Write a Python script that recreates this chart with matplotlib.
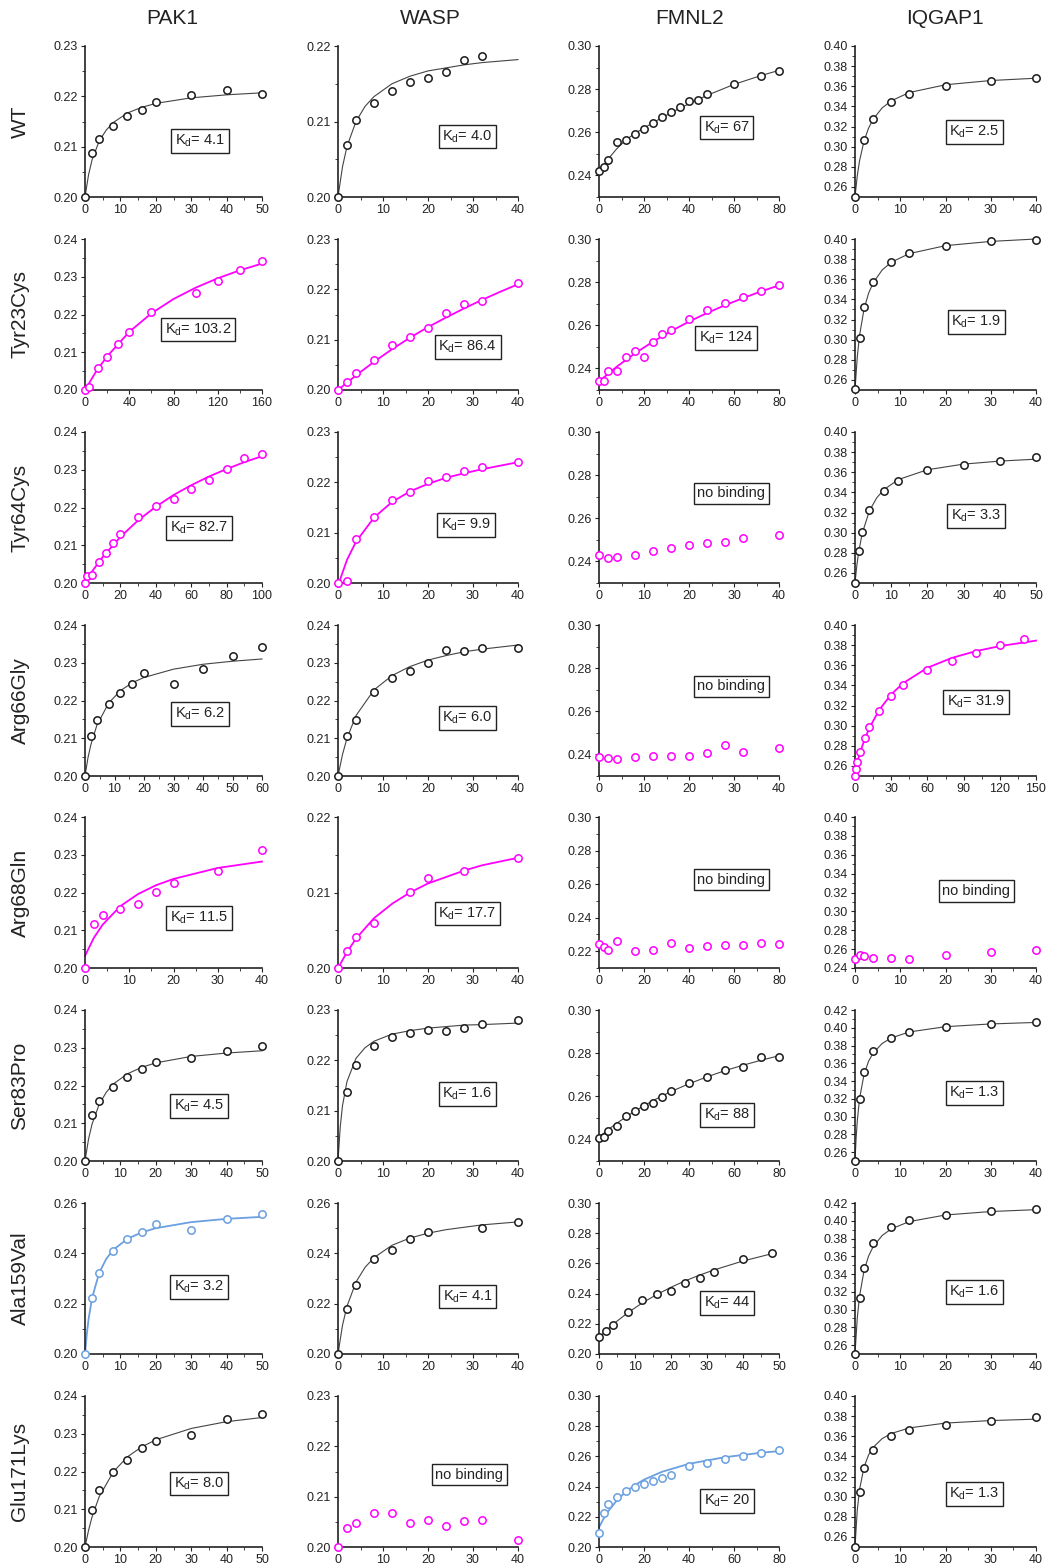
import numpy as np
import matplotlib
matplotlib.use("Agg")
import matplotlib.pyplot as plt

plt.rcParams['font.family'] = ['Liberation Sans', 'DejaVu Sans']
plt.rcParams['mathtext.default'] = 'regular'

proteins = ["PAK1", "WASP", "FMNL2", "IQGAP1"]
mutants = ["WT", "Tyr23Cys", "Tyr64Cys", "Arg66Gly", "Arg68Gln",
           "Ser83Pro", "Ala159Val", "Glu171Lys"]

# ---- WT ----
wt_pak1_x = [0, 2, 4, 8, 12, 16, 20, 30, 40, 50]
wt_pak1_y = [0.200, 0.2088, 0.2115, 0.2142, 0.2160, 0.2172, 0.2189, 0.2202, 0.2212, 0.2205]
wt_pak1_fx = [0, 1, 2, 4, 6, 8, 12, 16, 20, 30, 40, 50]
wt_pak1_fy = [0.200, 0.2044, 0.2074, 0.2111, 0.2133, 0.2148, 0.2167, 0.2178, 0.2186, 0.2197, 0.2203, 0.2207]
wt_wasp_x = [0, 2, 4, 8, 12, 16, 20, 24, 28, 32]
wt_wasp_y = [0.200, 0.2069, 0.2102, 0.2125, 0.2141, 0.2152, 0.2157, 0.2165, 0.2182, 0.2187]
wt_wasp_fx = [0, 1, 2, 4, 6, 8, 12, 16, 20, 24, 28, 32, 40]
wt_wasp_fy = [0.200, 0.2040, 0.2067, 0.2100, 0.2120, 0.2133, 0.2150, 0.2160, 0.2167, 0.2171, 0.2175, 0.2178, 0.2182]
wt_fmnl2_x = [0, 2, 4, 8, 12, 16, 20, 24, 28, 32, 36, 40, 44, 48, 60, 72, 80]
wt_fmnl2_y = [0.2420, 0.2437, 0.2470, 0.2553, 0.2563, 0.2590, 0.2614, 0.2641, 0.2670, 0.2695,
              0.2718, 0.2743, 0.2750, 0.2776, 0.2822, 0.2861, 0.2884]
wt_fmnl2_fx = [0, 4, 8, 12, 16, 20, 28, 36, 44, 48, 60, 72, 80]
wt_fmnl2_fy = [0.2415, 0.2475, 0.2525, 0.2565, 0.2595, 0.2620, 0.2668, 0.2712, 0.2752, 0.2771, 0.2822, 0.2863, 0.2887]
wt_iqgap1_x = [0, 2, 4, 8, 12, 20, 30, 40]
wt_iqgap1_y = [0.250, 0.3065, 0.3275, 0.3443, 0.3525, 0.3602, 0.3648, 0.3678]
wt_iqgap1_fx = [0, 0.5, 1, 2, 3, 4, 6, 8, 12, 20, 30, 40]
wt_iqgap1_fy = [0.250, 0.271, 0.2858, 0.3057, 0.3184, 0.3272, 0.3385, 0.3455, 0.3538, 0.3615, 0.3657, 0.368]

# ---- Tyr23Cys ----
y23_pak1_x = [0, 4, 12, 20, 30, 40, 60, 100, 120, 140, 160]
y23_pak1_y = [0.2000, 0.2007, 0.2059, 0.2088, 0.2123, 0.2153, 0.2207, 0.2256, 0.2288, 0.2318, 0.2343]
y23_pak1_fx = [0, 10, 20, 40, 60, 80, 100, 120, 140, 160]
y23_pak1_fy = [0.200, 0.2049, 0.2089, 0.2154, 0.2203, 0.2241, 0.2271, 0.2296, 0.2317, 0.2335]
y23_wasp_x = [0, 2, 4, 8, 12, 16, 20, 24, 28, 32, 40]
y23_wasp_y = [0.2000, 0.2016, 0.2034, 0.2060, 0.2089, 0.2106, 0.2123, 0.2153, 0.2171, 0.2176, 0.2212]
y23_wasp_fx = [0, 4, 8, 12, 16, 20, 24, 28, 32, 36, 40]
y23_wasp_fy = [0.200, 0.2029, 0.2056, 0.2081, 0.2104, 0.2125, 0.2144, 0.2162, 0.2179, 0.2195, 0.2210]
y23_fmnl2_x = [0, 2, 4, 8, 12, 16, 20, 24, 28, 32, 40, 48, 56, 64, 72, 80]
y23_fmnl2_y = [0.2343, 0.2343, 0.2390, 0.2390, 0.2453, 0.2479, 0.2451, 0.2521, 0.2561, 0.2579,
               0.2630, 0.2673, 0.2705, 0.2732, 0.2760, 0.2787]
y23_fmnl2_fx = [0, 8, 16, 24, 32, 40, 48, 56, 64, 72, 80]
y23_fmnl2_fy = [0.2340, 0.2409, 0.2470, 0.2524, 0.2573, 0.2617, 0.2657, 0.2693, 0.2726, 0.2757, 0.2785]
y23_iqgap1_x = [0, 1, 2, 4, 8, 12, 20, 30, 40]
y23_iqgap1_y = [0.2505, 0.3015, 0.3320, 0.3575, 0.3775, 0.3862, 0.3930, 0.3978, 0.3995]
y23_iqgap1_fx = [0, 0.5, 1, 2, 3, 4, 6, 8, 12, 20, 30, 40]
y23_iqgap1_fy = [0.250, 0.2827, 0.3041, 0.3305, 0.3461, 0.3564, 0.3692, 0.3769, 0.3855, 0.3934, 0.3976, 0.400]

# ---- Tyr64Cys ----
y64_pak1_x = [0, 1, 4, 8, 12, 16, 20, 30, 40, 50, 60, 70, 80, 90, 100]
y64_pak1_y = [0.2000, 0.2018, 0.2021, 0.2056, 0.2079, 0.2106, 0.2131, 0.2176, 0.2205, 0.2223,
              0.2250, 0.2274, 0.2301, 0.2331, 0.2342]
y64_pak1_fx = [0, 10, 20, 30, 40, 50, 60, 70, 80, 90, 100]
y64_pak1_fy = [0.2005, 0.2069, 0.2122, 0.2166, 0.2202, 0.2233, 0.2259, 0.2282, 0.2302, 0.2320, 0.2336]
y64_wasp_x = [0, 2, 4, 8, 12, 16, 20, 24, 28, 32, 40]
y64_wasp_y = [0.2000, 0.2003, 0.2088, 0.2131, 0.2165, 0.2180, 0.2202, 0.2211, 0.2222, 0.2231, 0.2240]
y64_wasp_fx = [0, 2, 4, 8, 12, 16, 20, 24, 28, 32, 40]
y64_wasp_fy = [0.1995, 0.2046, 0.2082, 0.2130, 0.2161, 0.2182, 0.2197, 0.2209, 0.2218, 0.2226, 0.2240]
y64_fmnl2_x = [0, 2, 4, 8, 12, 16, 20, 24, 28, 32, 40]
y64_fmnl2_y = [0.2430, 0.2417, 0.2420, 0.2428, 0.2447, 0.2461, 0.2474, 0.2484, 0.2492, 0.2507, 0.2521]
y64_iqgap1_x = [0, 1, 2, 4, 8, 12, 20, 30, 40, 50]
y64_iqgap1_y = [0.250, 0.2815, 0.3010, 0.3225, 0.3412, 0.3510, 0.3618, 0.3670, 0.3712, 0.3748]
y64_iqgap1_fx = [0, 0.5, 1, 2, 4, 6, 8, 12, 20, 30, 40, 50]
y64_iqgap1_fy = [0.250, 0.2672, 0.2805, 0.2995, 0.3218, 0.3346, 0.3428, 0.3528, 0.3625, 0.3681, 0.3711, 0.373]

# ---- Arg66Gly ----
r66_pak1_x = [0, 2, 4, 8, 12, 16, 20, 30, 40, 50, 60]
r66_pak1_y = [0.2000, 0.2105, 0.2149, 0.2191, 0.2219, 0.2243, 0.2272, 0.2243, 0.2283, 0.2317, 0.2341]
r66_pak1_fx = [0, 1, 2, 4, 8, 12, 16, 20, 30, 40, 50, 60]
r66_pak1_fy = [0.200, 0.2048, 0.2083, 0.2134, 0.2193, 0.2226, 0.2247, 0.2261, 0.2283, 0.2296, 0.2304, 0.2310]
r66_wasp_x = [0, 2, 4, 8, 12, 16, 20, 24, 28, 32, 40]
r66_wasp_y = [0.200, 0.2106, 0.2149, 0.2223, 0.2259, 0.2277, 0.2299, 0.2333, 0.2332, 0.2338, 0.2340]
r66_wasp_fx = [0, 1, 2, 4, 8, 12, 16, 20, 24, 28, 32, 40]
r66_wasp_fy = [0.200, 0.2057, 0.2100, 0.2160, 0.2228, 0.2266, 0.2290, 0.2307, 0.2319, 0.2329, 0.2336, 0.2347]
r66_fmnl2_x = [0, 2, 4, 8, 12, 16, 20, 24, 28, 32, 40]
r66_fmnl2_y = [0.2388, 0.2383, 0.2381, 0.2388, 0.2391, 0.2395, 0.2391, 0.2405, 0.2445, 0.2411, 0.2432]
r66_iqgap1_x = [0, 1, 2, 4, 8, 12, 20, 30, 40, 60, 80, 100, 120, 140]
r66_iqgap1_y = [0.2500, 0.2565, 0.2638, 0.2734, 0.2880, 0.2990, 0.3150, 0.3290, 0.3405, 0.3555,
                0.3645, 0.3725, 0.3805, 0.3865]
r66_iqgap1_fx = [0, 2, 4, 8, 12, 20, 30, 40, 60, 80, 100, 120, 150]
r66_iqgap1_fy = [0.255, 0.2643, 0.2725, 0.2865, 0.2979, 0.3155, 0.3311, 0.3423, 0.3575, 0.3672, 0.3740, 0.3790, 0.3845]

# ---- Arg68Gln ----
r68_pak1_x = [0, 2, 4, 8, 12, 16, 20, 30, 40]
r68_pak1_y = [0.2000, 0.2117, 0.2141, 0.2157, 0.2170, 0.2201, 0.2224, 0.2258, 0.2312]
r68_pak1_fx = [0, 2, 4, 8, 12, 16, 20, 30, 40]
r68_pak1_fy = [0.2032, 0.2080, 0.2115, 0.2164, 0.2196, 0.2219, 0.2236, 0.2265, 0.2282]
r68_wasp_x = [0, 2, 4, 8, 16, 20, 28, 40]
r68_wasp_y = [0.2000, 0.2022, 0.2041, 0.2060, 0.2101, 0.2119, 0.2129, 0.2146]
r68_wasp_fx = [0, 2, 4, 8, 12, 16, 20, 28, 32, 40]
r68_wasp_fy = [0.200, 0.2021, 0.2039, 0.2066, 0.2085, 0.2100, 0.2112, 0.2129, 0.2136, 0.2146]
r68_fmnl2_x = [0, 2, 4, 8, 16, 24, 32, 40, 48, 56, 64, 72, 80]
r68_fmnl2_y = [0.2245, 0.2225, 0.2205, 0.2263, 0.2200, 0.2205, 0.2248, 0.2220, 0.2232, 0.2238,
               0.2238, 0.2248, 0.2243]
r68_iqgap1_x = [0, 1, 2, 4, 8, 12, 20, 30, 40]
r68_iqgap1_y = [0.2500, 0.2540, 0.2528, 0.2510, 0.2510, 0.2500, 0.2535, 0.2568, 0.2594]

# ---- Ser83Pro ----
s83_pak1_x = [0, 2, 4, 8, 12, 16, 20, 30, 40, 50]
s83_pak1_y = [0.2000, 0.2123, 0.2158, 0.2196, 0.2223, 0.2244, 0.2263, 0.2274, 0.2292, 0.2305]
s83_pak1_fx = [0, 1, 2, 4, 6, 8, 12, 16, 20, 30, 40, 50]
s83_pak1_fy = [0.200, 0.2058, 0.2098, 0.2150, 0.2182, 0.2204, 0.2231, 0.2248, 0.2260, 0.2277, 0.2286, 0.2292]
s83_wasp_x = [0, 2, 4, 8, 12, 16, 20, 24, 28, 32, 40]
s83_wasp_y = [0.200, 0.2138, 0.2190, 0.2228, 0.2246, 0.2255, 0.2261, 0.2258, 0.2264, 0.2272, 0.2281]
s83_wasp_fx = [0, 0.5, 1, 2, 4, 6, 8, 12, 16, 20, 28, 32, 40]
s83_wasp_fy = [0.200, 0.2068, 0.2110, 0.2158, 0.2204, 0.2225, 0.2238, 0.2252, 0.2259, 0.2264, 0.2270, 0.2271, 0.2274]
s83_fmnl2_x = [0, 2, 4, 8, 12, 16, 20, 24, 28, 32, 40, 48, 56, 64, 72, 80]
s83_fmnl2_y = [0.2407, 0.2413, 0.2437, 0.2460, 0.2510, 0.2532, 0.2557, 0.2571, 0.2598, 0.2623,
               0.2660, 0.2689, 0.2720, 0.2738, 0.2782, 0.2783]
s83_fmnl2_fx = [0, 4, 8, 16, 24, 32, 40, 48, 56, 64, 72, 80]
s83_fmnl2_fy = [0.2410, 0.2445, 0.2476, 0.2532, 0.2580, 0.2622, 0.2658, 0.2690, 0.2719, 0.2744, 0.2767, 0.2788]
s83_iqgap1_x = [0, 1, 2, 4, 8, 12, 20, 30, 40]
s83_iqgap1_y = [0.250, 0.3195, 0.3500, 0.3735, 0.3885, 0.3950, 0.4005, 0.4045, 0.4068]
s83_iqgap1_fx = [0, 0.25, 0.5, 1, 2, 3, 4, 6, 8, 12, 20, 30, 40]
s83_iqgap1_fy = [0.250, 0.276, 0.2947, 0.320, 0.3476, 0.3623, 0.3715, 0.3823, 0.3885, 0.3953, 0.4012, 0.4043, 0.406]

# ---- Ala159Val ----
a159_pak1_x = [0, 2, 4, 8, 12, 16, 20, 30, 40, 50]
a159_pak1_y = [0.200, 0.2222, 0.2323, 0.2408, 0.2455, 0.2485, 0.2515, 0.2493, 0.2537, 0.2558]
a159_pak1_fx = [0, 0.5, 1, 2, 4, 6, 8, 12, 16, 20, 30, 40, 50]
a159_pak1_fy = [0.200, 0.2078, 0.2138, 0.2223, 0.2322, 0.2378, 0.2414, 0.2458, 0.2483, 0.2500, 0.2524, 0.2537, 0.2545]
a159_wasp_x = [0, 2, 4, 8, 12, 16, 20, 32, 40]
a159_wasp_y = [0.200, 0.2178, 0.2275, 0.2378, 0.2412, 0.2455, 0.2485, 0.2502, 0.2525]
a159_wasp_fx = [0, 1, 2, 4, 6, 8, 12, 16, 20, 24, 32, 40]
a159_wasp_fy = [0.200, 0.2114, 0.2190, 0.2286, 0.2344, 0.2383, 0.2432, 0.2461, 0.2480, 0.2494, 0.2513, 0.2525]
a159_fmnl2_x = [0, 2, 4, 8, 12, 16, 20, 24, 28, 32, 40, 48]
a159_fmnl2_y = [0.2110, 0.2150, 0.2195, 0.2280, 0.2355, 0.2400, 0.2420, 0.2470, 0.2505, 0.2545, 0.2630, 0.2668]
a159_fmnl2_fx = [0, 4, 8, 12, 16, 20, 24, 28, 32, 40, 48]
a159_fmnl2_fy = [0.2110, 0.2199, 0.2273, 0.2338, 0.2393, 0.2442, 0.2485, 0.2523, 0.2557, 0.2616, 0.2664]
a159_iqgap1_x = [0, 1, 2, 4, 8, 12, 20, 30, 40]
a159_iqgap1_y = [0.250, 0.3125, 0.3465, 0.3745, 0.3935, 0.4005, 0.4070, 0.4105, 0.4130]
a159_iqgap1_fx = [0, 0.5, 1, 2, 3, 4, 6, 8, 12, 20, 30, 40]
a159_iqgap1_fy = [0.250, 0.2902, 0.315, 0.3439, 0.3602, 0.3707, 0.3834, 0.3908, 0.3991, 0.4065, 0.4104, 0.4125]

# ---- Glu171Lys ----
e171_pak1_x = [0, 2, 4, 8, 12, 16, 20, 30, 40, 50]
e171_pak1_y = [0.200, 0.2097, 0.2150, 0.2198, 0.2230, 0.2262, 0.2282, 0.2297, 0.2340, 0.2352]
e171_pak1_fx = [0, 1, 2, 4, 8, 12, 16, 20, 30, 40, 50]
e171_pak1_fy = [0.200, 0.2044, 0.2080, 0.2133, 0.2199, 0.2239, 0.2265, 0.2284, 0.2314, 0.2332, 0.2343]
e171_wasp_x = [0, 2, 4, 8, 12, 16, 20, 24, 28, 32, 40]
e171_wasp_y = [0.2000, 0.2038, 0.2047, 0.2067, 0.2068, 0.2047, 0.2053, 0.2041, 0.2051, 0.2053, 0.2013]
e171_fmnl2_x = [0, 2, 4, 8, 12, 16, 20, 24, 28, 32, 40, 48, 56, 64, 72, 80]
e171_fmnl2_y = [0.2090, 0.2228, 0.2285, 0.2330, 0.2370, 0.2400, 0.2415, 0.2440, 0.2460, 0.2475,
                0.2535, 0.2555, 0.2585, 0.2605, 0.2620, 0.2640]
e171_fmnl2_fx = [0, 2, 4, 8, 12, 16, 20, 28, 40, 56, 72, 80]
e171_fmnl2_fy = [0.2130, 0.2187, 0.2235, 0.2310, 0.2367, 0.2410, 0.2446, 0.2498, 0.2551, 0.2595, 0.2624, 0.2635]
e171_iqgap1_x = [0, 1, 2, 4, 8, 12, 20, 30, 40]
e171_iqgap1_y = [0.250, 0.3050, 0.3285, 0.3465, 0.3600, 0.3660, 0.3715, 0.3748, 0.3790]
e171_iqgap1_fx = [0, 0.5, 1, 2, 3, 4, 6, 8, 12, 20, 30, 40]
e171_iqgap1_fy = [0.250, 0.2864, 0.307, 0.3295, 0.3415, 0.3489, 0.3577, 0.3627, 0.3683, 0.3731, 0.3756, 0.377]

# Kd labels
kd_text = [
    ["4.1", "4.0", "67", "2.5"],
    ["103.2", "86.4", "124", "1.9"],
    ["82.7", "9.9", None, "3.3"],
    ["6.2", "6.0", None, "31.9"],
    ["11.5", "17.7", None, None],
    ["4.5", "1.6", "88", "1.3"],
    ["3.2", "4.1", "44", "1.6"],
    ["8.0", None, "20", "1.3"],
]

BLACK = "#1a1a1a"
MAG = "#ff00ff"
BLUE = "#6a9fe0"

# panel specs: data, fit, colour, xmax, xstep, ylo, yhi, ystep, yminor, box position
panels = [
    # WT
    [(wt_pak1_x, wt_pak1_y, wt_pak1_fx, wt_pak1_fy, BLACK, 50, 10, 0.20, 0.23, 0.01, 0.005, (0.65, 0.37)),
     (wt_wasp_x, wt_wasp_y, wt_wasp_fx, wt_wasp_fy, BLACK, 40, 10, 0.20, 0.22, 0.01, 0.005, (0.72, 0.40)),
     (wt_fmnl2_x, wt_fmnl2_y, wt_fmnl2_fx, wt_fmnl2_fy, BLACK, 80, 20, 0.23, 0.30, 0.02, 0.01, (0.71, 0.46)),
     (wt_iqgap1_x, wt_iqgap1_y, wt_iqgap1_fx, wt_iqgap1_fy, BLACK, 40, 10, 0.25, 0.40, 0.02, 0.01, (0.66, 0.43))],
    # Tyr23Cys
    [(y23_pak1_x, y23_pak1_y, y23_pak1_fx, y23_pak1_fy, MAG, 160, 40, 0.20, 0.24, 0.01, 0.005, (0.64, 0.40)),
     (y23_wasp_x, y23_wasp_y, y23_wasp_fx, y23_wasp_fy, MAG, 40, 10, 0.20, 0.23, 0.01, 0.005, (0.72, 0.285)),
     (y23_fmnl2_x, y23_fmnl2_y, y23_fmnl2_fx, y23_fmnl2_fy, MAG, 80, 20, 0.23, 0.30, 0.02, 0.01, (0.705, 0.345)),
     (y23_iqgap1_x, y23_iqgap1_y, y23_iqgap1_fx, y23_iqgap1_fy, BLACK, 40, 10, 0.25, 0.40, 0.02, 0.01, (0.67, 0.45))],
    # Tyr64Cys
    [(y64_pak1_x, y64_pak1_y, y64_pak1_fx, y64_pak1_fy, MAG, 100, 20, 0.20, 0.24, 0.01, 0.005, (0.645, 0.365)),
     (y64_wasp_x, y64_wasp_y, y64_wasp_fx, y64_wasp_fy, MAG, 40, 10, 0.20, 0.23, 0.01, 0.005, (0.71, 0.385)),
     (y64_fmnl2_x, y64_fmnl2_y, None, None, MAG, 40, 10, 0.23, 0.30, 0.02, 0.01, (0.735, 0.595)),
     (y64_iqgap1_x, y64_iqgap1_y, y64_iqgap1_fx, y64_iqgap1_fy, BLACK, 50, 10, 0.25, 0.40, 0.02, 0.01, (0.67, 0.445))],
    # Arg66Gly
    [(r66_pak1_x, r66_pak1_y, r66_pak1_fx, r66_pak1_fy, BLACK, 60, 10, 0.20, 0.24, 0.01, 0.005, (0.65, 0.41)),
     (r66_wasp_x, r66_wasp_y, r66_wasp_fx, r66_wasp_fy, BLACK, 40, 10, 0.20, 0.24, 0.01, 0.005, (0.72, 0.385)),
     (r66_fmnl2_x, r66_fmnl2_y, None, None, MAG, 40, 10, 0.23, 0.30, 0.02, 0.01, (0.735, 0.595)),
     (r66_iqgap1_x, r66_iqgap1_y, r66_iqgap1_fx, r66_iqgap1_fy, MAG, 150, 30, 0.25, 0.40, 0.02, 0.01, (0.67, 0.49))],
    # Arg68Gln
    [(r68_pak1_x, r68_pak1_y, r68_pak1_fx, r68_pak1_fy, MAG, 40, 10, 0.20, 0.24, 0.01, 0.005, (0.645, 0.33)),
     (r68_wasp_x, r68_wasp_y, r68_wasp_fx, r68_wasp_fy, MAG, 40, 10, 0.20, 0.22, 0.01, 0.005, (0.72, 0.36)),
     (r68_fmnl2_x, r68_fmnl2_y, None, None, MAG, 80, 20, 0.21, 0.30, 0.02, 0.01, (0.735, 0.585)),
     (r68_iqgap1_x, r68_iqgap1_y, None, None, MAG, 40, 10, 0.24, 0.40, 0.02, 0.01, (0.67, 0.51))],
    # Ser83Pro
    [(s83_pak1_x, s83_pak1_y, s83_pak1_fx, s83_pak1_fy, BLACK, 50, 10, 0.20, 0.24, 0.01, 0.005, (0.645, 0.365)),
     (s83_wasp_x, s83_wasp_y, s83_wasp_fx, s83_wasp_fy, BLACK, 40, 10, 0.20, 0.23, 0.01, 0.005, (0.72, 0.445)),
     (s83_fmnl2_x, s83_fmnl2_y, s83_fmnl2_fx, s83_fmnl2_fy, BLACK, 80, 20, 0.23, 0.30, 0.02, 0.01, (0.71, 0.305)),
     (s83_iqgap1_x, s83_iqgap1_y, s83_iqgap1_fx, s83_iqgap1_fy, BLACK, 40, 10, 0.25, 0.42, 0.02, 0.01, (0.66, 0.45))],
    # Ala159Val
    [(a159_pak1_x, a159_pak1_y, a159_pak1_fx, a159_pak1_fy, BLUE, 50, 10, 0.20, 0.26, 0.02, 0.01, (0.645, 0.445)),
     (a159_wasp_x, a159_wasp_y, a159_wasp_fx, a159_wasp_fy, BLACK, 40, 10, 0.20, 0.26, 0.02, 0.01, (0.72, 0.38)),
     (a159_fmnl2_x, a159_fmnl2_y, a159_fmnl2_fx, a159_fmnl2_fy, BLACK, 50, 10, 0.20, 0.30, 0.02, 0.01, (0.71, 0.34)),
     (a159_iqgap1_x, a159_iqgap1_y, a159_iqgap1_fx, a159_iqgap1_fy, BLACK, 40, 10, 0.25, 0.42, 0.02, 0.01, (0.66, 0.41))],
    # Glu171Lys
    [(e171_pak1_x, e171_pak1_y, e171_pak1_fx, e171_pak1_fy, BLACK, 50, 10, 0.20, 0.24, 0.01, 0.005, (0.645, 0.42)),
     (e171_wasp_x, e171_wasp_y, None, None, MAG, 40, 10, 0.20, 0.23, 0.01, 0.005, (0.73, 0.48)),
     (e171_fmnl2_x, e171_fmnl2_y, e171_fmnl2_fx, e171_fmnl2_fy, BLUE, 80, 20, 0.20, 0.30, 0.02, 0.01, (0.71, 0.305)),
     (e171_iqgap1_x, e171_iqgap1_y, e171_iqgap1_fx, e171_iqgap1_fy, BLACK, 40, 10, 0.25, 0.40, 0.02, 0.01, (0.66, 0.35))],
]

W, H = 1046, 1566
fig = plt.figure(figsize=(W / 100, H / 100), dpi=100)

lefts = [85, 338, 599, 855]
widths = [177, 180, 180, 181]
bottoms = [197, 390, 583, 776, 968, 1161, 1354, 1547]
ax_h = 151

for r in range(8):
    for c in range(4):
        x, y, fx, fy, col, xmax, xstep, ylo, yhi, ystep, yminor, boxpos = panels[r][c]
        ax = fig.add_axes([lefts[c] / W, 1 - bottoms[r] / H, widths[c] / W, ax_h / H])
        if fx is not None:
            lw = 0.8 if col == BLACK else 1.3
            lc = "#444444" if col == BLACK else col
            ax.plot(fx, fy, color=lc, lw=lw, zorder=2, clip_on=False)
        ax.plot(x, y, 'o', ms=5.3, mfc='white', mec=col, mew=1.1, zorder=3, clip_on=False)

        ax.set_xlim(0, xmax)
        ax.set_ylim(ylo, yhi)
        ax.set_xticks(np.arange(0, xmax + 0.1, xstep))
        ax.set_xticks(np.arange(0, xmax + 0.1, xstep / 2), minor=True)
        yt = [round(v, 3) for v in np.arange(0.0, 0.5, ystep) if ylo - 1e-6 <= v <= yhi + 1e-6]
        ym = [round(v, 3) for v in np.arange(0.0, 0.5, yminor) if ylo - 1e-6 <= v <= yhi + 1e-6]
        ax.set_yticks(yt)
        ax.set_yticks(ym, minor=True)
        ax.set_yticklabels(["%.2f" % v for v in yt])
        ax.set_xticklabels(["%d" % v for v in np.arange(0, xmax + 0.1, xstep)])

        for s in ["top", "right"]:
            ax.spines[s].set_visible(False)
        for s in ["left", "bottom"]:
            ax.spines[s].set_linewidth(1.2)
            ax.spines[s].set_color("#222222")
        ax.tick_params(which='major', length=3, width=0.8, labelsize=9, pad=2, colors="#222222")
        ax.tick_params(which='minor', length=2, width=0.6, colors="#222222")

        kd = kd_text[r][c]
        label = "no binding" if kd is None else "K$_d$= " + kd
        ax.text(boxpos[0], boxpos[1], label, transform=ax.transAxes, ha='center', va='center',
                fontsize=10.5, color="#222222",
                bbox=dict(boxstyle='square,pad=0.25', fc='white', ec='#222222', lw=1.0))

col_centers = [172, 430, 690, 945]
for c in range(4):
    fig.text(col_centers[c] / W, 1 - 18 / H, proteins[c], ha='center', va='center', fontsize=15, color="#222222")

for r in range(8):
    yc = bottoms[r] - ax_h / 2
    fig.text(20 / W, 1 - yc / H, mutants[r], rotation=90, ha='center', va='center', fontsize=15, color="#222222")

fig.savefig("out.png", dpi=100)
